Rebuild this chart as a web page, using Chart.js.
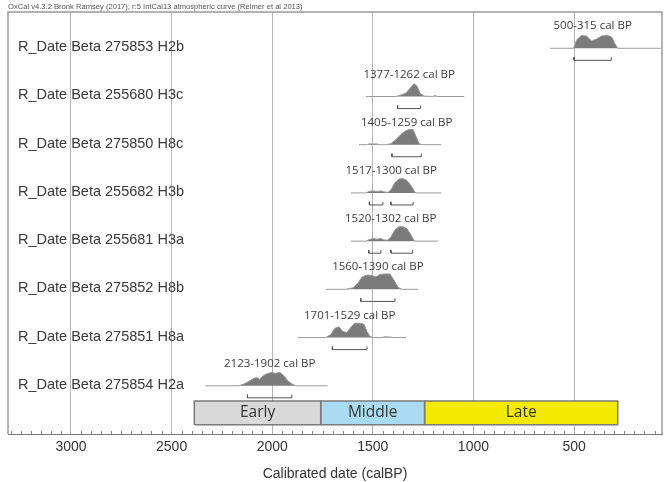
<!DOCTYPE html>
<html>
<head>
<meta charset="utf-8">
<script src="https://cdn.jsdelivr.net/npm/chart.js@4.4.0/dist/chart.umd.min.js"></script>
<style>
  html, body { margin: 0; padding: 0; background: #fff; }
</style>
</head>
<body>
<canvas id="myChart" width="664" height="482"></canvas>
<script>
// samples, top row first
const sampleNames = [
    "R_Date Beta 275853 H2b",
    "R_Date Beta 255680 H3c",
    "R_Date Beta 275850 H8c",
    "R_Date Beta 255682 H3b",
    "R_Date Beta 255681 H3a",
    "R_Date Beta 275852 H8b",
    "R_Date Beta 275851 H8a",
    "R_Date Beta 275854 H2a"
];
const rangeStart = [500, 1377, 1405, 1517, 1520, 1560, 1701, 2123];
const rangeEnd = [315, 1262, 1259, 1300, 1302, 1390, 1529, 1902];
const bracketRanges = [
    [[500, 315]],
    [[1377, 1262]],
    [[1405, 1259]],
    [[1517, 1450], [1410, 1300]],
    [[1520, 1460], [1410, 1302]],
    [[1560, 1390]],
    [[1701, 1529]],
    [[2123, 1902]]
];

// calibrated probability curves (cal BP, relative probability)
const probYears = [
    [620, 502, 488, 463, 438, 413, 388, 363, 333, 313, 298, 283, 70],
    [1534, 1385, 1360, 1335, 1315, 1295, 1280, 1265, 1245, 1200, 1190, 1180, 1046],
    [1569, 1525, 1520, 1475, 1470, 1435, 1410, 1385, 1360, 1340, 1320, 1300, 1285, 1270, 1255, 1160],
    [1609, 1534, 1519, 1499, 1480, 1460, 1445, 1425, 1410, 1390, 1370, 1350, 1330, 1310, 1290, 1280, 1160],
    [1609, 1534, 1519, 1499, 1480, 1460, 1445, 1425, 1410, 1390, 1370, 1350, 1330, 1310, 1295, 1285, 1175],
    [1734, 1634, 1599, 1574, 1554, 1529, 1504, 1485, 1465, 1440, 1415, 1395, 1375, 1355, 1275],
    [1873, 1734, 1709, 1689, 1669, 1649, 1629, 1609, 1589, 1564, 1544, 1529, 1514, 1500, 1450, 1445, 1410, 1395, 1335],
    [2332, 2167, 2143, 2118, 2093, 2078, 2063, 2043, 2023, 2003, 1983, 1963, 1943, 1923, 1903, 1883, 1724]
];
const probValues = [
    [0, 0, .53, .83, .8, .47, .6, .8, .83, .73, .33, 0, 0],
    [0, 0, .1, .23, .53, .83, .67, .2, .03, 0, .07, 0, 0],
    [0, 0, .05, .05, 0, 0, .07, .33, .67, .87, 1, .97, .53, .07, 0, 0],
    [0, 0, .1, .13, .1, .13, .07, .03, .2, .67, .9, .93, .8, .47, .03, 0, 0],
    [0, 0, .1, .17, .13, .17, .07, .07, .27, .73, .93, .93, .8, .4, .03, 0, 0],
    [0, 0, .1, .4, .8, .93, .9, .8, .97, 1, 1, .6, .13, 0, 0],
    [0, 0, .2, .6, .7, .4, .33, .67, .93, .93, .87, .4, .07, 0, 0, .05, .03, 0, 0],
    [0, 0, .1, .27, .47, .53, .43, .67, .8, .87, .8, .87, .67, .33, .13, 0, 0]
];

// phases
const phaseNames = ["Early", "Middle", "Late"];
const phaseFrom = [2387, 1759, 1243];
const phaseTo = [1759, 1243, 283];
const phaseColors = ["#d9d9d9", "#a9dcf2", "#f4ea00"];

const majorTicks = [3000, 2500, 2000, 1500, 1000, 500];

// layout in row units
const rowCount = sampleNames.length;
const probHeight = 0.32;
const labelOffset = 0.46;
const bracketDrop = 0.25;
const bracketTick = 0.065;
const boxBottom = 0.19;
const boxTop = 0.685;

function rowBase(i) { return rowCount - i; }

const datasets = [];

probYears.forEach((years, i) => {
    const base = rowBase(i);
    datasets.push({
        data: years.map((yr, j) => ({ x: yr, y: base + probValues[i][j] * probHeight })),
        borderColor: "#9a9a9a",
        borderWidth: 1,
        backgroundColor: "#7b7b7b",
        fill: { value: base },
        pointRadius: 0,
        tension: 0
    });
});

bracketRanges.forEach((segs, i) => {
    const b = rowBase(i) - bracketDrop;
    const pts = [];
    segs.forEach(([a, e]) => {
        pts.push({ x: a, y: b + bracketTick }, { x: a, y: b }, { x: e, y: b }, { x: e, y: b + bracketTick });
        pts.push({ x: e, y: null });
    });
    datasets.push({
        data: pts,
        borderColor: "#555",
        borderWidth: 1,
        pointRadius: 0,
        fill: false,
        spanGaps: false
    });
});

phaseNames.forEach((p, i) => {
    datasets.push({
        data: [
            { x: phaseFrom[i], y: boxBottom }, { x: phaseFrom[i], y: boxTop },
            { x: phaseTo[i], y: boxTop }, { x: phaseTo[i], y: boxBottom },
            { x: phaseFrom[i], y: boxBottom }
        ],
        borderColor: "#7a7a7a",
        borderWidth: 1.5,
        backgroundColor: phaseColors[i],
        fill: "shape",
        pointRadius: 0
    });
});

const minorTicks = [];
for (let v = 100; v <= 3300; v += 50) minorTicks.push(v);

const decor = {
    id: "decor",
    afterDatasetsDraw(chart) {
        const { ctx, chartArea: a, scales: { x, y } } = chart;
        ctx.save();
        // minor ticks
        ctx.strokeStyle = "#888";
        ctx.lineWidth = 1;
        x.ticks.forEach(t => {
            if (t.value % 500 !== 0) {
                const px = Math.round(x.getPixelForValue(t.value)) + 0.5;
                ctx.beginPath();
                ctx.moveTo(px, a.bottom);
                ctx.lineTo(px, a.bottom - 3);
                ctx.stroke();
            }
        });
        // frame
        ctx.strokeStyle = "#9a9a9a";
        ctx.lineWidth = 1.5;
        ctx.beginPath();
        ctx.moveTo(a.left, a.bottom);
        ctx.lineTo(a.left, a.top);
        ctx.lineTo(a.right, a.top);
        ctx.lineTo(a.right, a.bottom);
        ctx.stroke();

        ctx.textBaseline = "middle";
        ctx.fillStyle = "#3a3a3a";
        ctx.textAlign = "left";
        ctx.font = '14.5px "Liberation Sans", Arial, sans-serif';
        sampleNames.forEach((n, i) => {
            ctx.fillText(n, a.left + 10, y.getPixelForValue(rowBase(i)) - 1);
        });

        ctx.textAlign = "center";
        ctx.fillStyle = "#3c3c3c";
        ctx.font = '11.5px "Open Sans", sans-serif';
        rangeStart.forEach((s, i) => {
            const label = s + "-" + rangeEnd[i] + " cal BP";
            ctx.fillText(label, x.getPixelForValue((s + rangeEnd[i]) / 2), y.getPixelForValue(rowBase(i) + labelOffset));
        });

        ctx.fillStyle = "#333";
        ctx.font = '15.5px "Open Sans", sans-serif';
        phaseNames.forEach((p, i) => {
            ctx.fillText(p, x.getPixelForValue((phaseFrom[i] + phaseTo[i]) / 2), y.getPixelForValue((boxBottom + boxTop) / 2));
        });
        ctx.restore();
    }
};

new Chart(document.getElementById("myChart"), {
    type: "line",
    data: { datasets: datasets },
    plugins: [decor],
    options: {
        responsive: false,
        animation: false,
        layout: { padding: { left: 8, right: 2 } },
        plugins: {
            legend: { display: false },
            tooltip: { enabled: false },
            title: {
                display: true,
                text: "OxCal v4.3.2 Bronk Ramsey (2017); r:5 IntCal13 atmospheric curve (Reimer et al 2013)",
                align: "start",
                color: "#555",
                font: { family: "Liberation Sans", size: 7.6, weight: "normal", lineHeight: 1.2 },
                padding: { top: 2, bottom: 1 }
            }
        },
        scales: {
            x: {
                type: "linear",
                reverse: true,
                min: 63,
                max: 3313,
                afterBuildTicks: s => { s.ticks = minorTicks.map(v => ({ value: v })); },
                afterFit: s => { s.height = 48; },
                ticks: {
                    autoSkip: false,
                    maxRotation: 0,
                    padding: 5,
                    color: "#333",
                    font: { family: "Liberation Sans", size: 14 },
                    callback: v => majorTicks.includes(v) ? String(v) : ""
                },
                grid: {
                    drawTicks: false,
                    color: c => (c.tick && c.tick.value % 500 === 0) ? "#b3b3b3" : "rgba(0,0,0,0)",
                    lineWidth: 1
                },
                border: { display: true, color: "#777", width: 1 },
                title: {
                    display: true,
                    text: "Calibrated date (calBP)",
                    color: "#333",
                    font: { family: "Liberation Sans", size: 14, lineHeight: 1.1 },
                    padding: { top: 0, bottom: 0 }
                }
            },
            y: {
                type: "linear",
                min: 0,
                max: 8.75,
                display: false
            }
        }
    }
});
</script>
</body>
</html>
